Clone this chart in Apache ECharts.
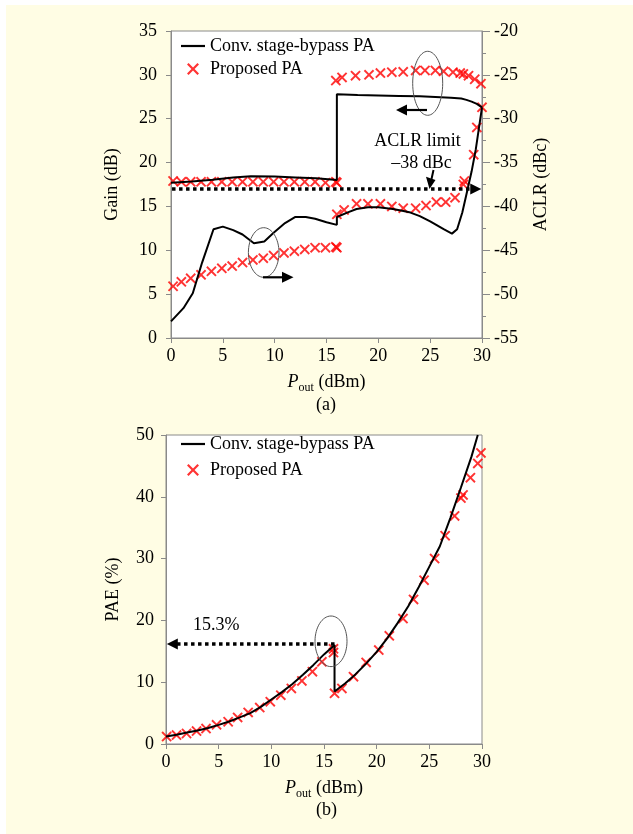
<!DOCTYPE html>
<html><head><meta charset="utf-8">
<script src="https://cdn.jsdelivr.net/npm/echarts@6/dist/echarts.min.js"></script>
<style>
html,body{margin:0;padding:0;background:#fff;}
#bg{position:absolute;left:6px;top:5px;width:627px;height:829px;background:#FFFDE4;}
#c{position:absolute;left:0;top:0;width:633px;height:834px;}
</style></head>
<body><div id="bg"></div><div id="c"></div>
<script>
// ---------- data ----------
// (a) Gain, conventional stage-bypass PA (dB, left axis)
const convGainP = [0,2,4,6,7.7,10,12,14,16,16,18,20,22,24,26,27,28,28.5,29,29.5,30];
const convGain  = [17.7,17.85,18.05,18.3,18.45,18.4,18.3,18.2,18.0,27.8,27.7,27.65,27.6,27.55,27.45,27.4,27.3,27.15,26.95,26.7,26.3];
// (a) ACLR, conventional (dBc, right axis)
const convAclrP = [0,1.2,2.1,3,4.1,5,6,6.9,8,9,9.9,11,12,13,13.9,15,16,16,17,17.9,19,20,21.4,22.3,23.1,24,25,26.3,27.1,27.6,28.1,28.6,29,29.4,30];
const convAclr  = [-53.1,-51.6,-49.9,-46.4,-42.6,-42.3,-42.7,-43.2,-44.2,-44.0,-43.0,-41.9,-41.2,-41.2,-41.4,-41.8,-42.1,-41.2,-40.7,-40.3,-40.1,-40.1,-40.3,-40.5,-40.7,-41.1,-41.7,-42.6,-43.1,-42.6,-40.7,-38.1,-36.0,-33.5,-28.7];
// (a) Proposed PA, low-power mode
const propLowP    = [0.2,1.0,1.9,2.9,3.9,4.9,5.9,6.9,7.9,8.9,9.9,10.9,11.9,12.9,13.9,14.9,15.9,16.0];
const propLowGain = [17.9,17.8,17.8,17.8,17.8,17.8,17.8,17.8,17.8,17.8,17.8,17.8,17.8,17.8,17.8,17.7,17.8,17.7];
const propLowAclr = [-49.1,-48.6,-48.2,-47.8,-47.4,-47.05,-46.8,-46.4,-46.1,-45.9,-45.6,-45.3,-45.1,-44.9,-44.7,-44.7,-44.6,-44.7];
// (a) Proposed PA, high-power mode
const propHighGainP = [15.9,16.5,17.8,19.1,20.2,21.3,22.4,23.6,24.5,25.5,26.3,27.2,27.9,28.2,28.7,29.3,29.9];
const propHighGain  = [29.35,29.7,29.9,30.0,30.2,30.3,30.35,30.5,30.5,30.5,30.4,30.3,30.2,30.1,29.9,29.5,29.0];
const propHighAclrP = [16.0,16.7,17.9,19.0,20.2,21.3,22.4,23.6,24.6,25.6,26.5,27.4,28.2,28.3,29.2,29.5,30.0];
const propHighAclr  = [-40.9,-40.4,-39.7,-39.7,-39.7,-40.0,-40.2,-40.2,-39.9,-39.5,-39.5,-39.0,-37.5,-37.1,-34.1,-31.0,-28.7];
const aclrLimit = -38;
// (b) PAE
const convPaeP = [0,1,2,3,4,5,6,7,8,9,10,11,12,13,14,15,16,16,17,18,19,20,21,22,23,24,25,26,27,28,29,29.6];
const convPae  = [1.2,1.5,1.85,2.2,2.6,3.1,3.65,4.3,5.0,6.0,7.2,8.4,9.7,11.2,12.8,14.5,16.0,8.5,9.8,11.3,13.0,14.9,17.1,19.6,22.3,25.4,28.7,32.0,36.6,41.5,46.5,50];
const propPaeP = [0.06,1.0,1.95,2.9,3.8,4.8,5.9,6.8,7.8,8.9,9.9,10.9,11.9,12.9,13.9,14.8,15.9,15.9,16.0,16.7,17.8,19.0,20.2,21.2,22.5,23.5,24.5,25.5,26.5,27.4,28.0,28.2,28.9,29.6,29.9];
const propPae  = [1.2,1.45,1.7,2.1,2.5,3.1,3.6,4.3,5.1,5.9,6.85,7.9,9.0,10.2,11.7,13.3,14.8,15.4,8.2,9.0,10.9,13.2,15.2,17.5,20.3,23.4,26.5,30.0,33.7,36.9,39.8,40.3,43.1,45.4,47.1];
const paeMark = 16.2;
const names = ['Conv. stage-bypass PA','Proposed PA'];

// ---------- chart ----------
const F = 'Liberation Serif';
const zip = (a,b) => a.map((v,i)=>[v,b[i]]);
const XPATH = 'path://M0,1.3L1.3,0L5,3.7L8.7,0L10,1.3L6.3,5L10,8.7L8.7,10L5,6.3L1.3,10L0,8.7L3.7,5Z';
const LPATH = 'path://M0,0H24V2.2H0Z';
const RED = '#FF0000';
const AX = '#8a8a8a';
const chart = echarts.init(document.getElementById('c'), null, {renderer:'canvas'});

function xAxisCfg(gi){
  return {type:'value', gridIndex:gi, min:0, max:30, interval:5,
    name:'{i|P}{s|out}{n| (dBm)}', nameLocation:'middle', nameGap:32,
    nameTextStyle:{color:'#000', fontFamily:F, fontSize:18, rich:{
      i:{fontStyle:'italic', fontFamily:F, fontSize:18, lineHeight:24, color:'#000'},
      s:{fontFamily:F, fontSize:12, lineHeight:12, verticalAlign:'bottom', color:'#000'},
      n:{fontFamily:F, fontSize:18, lineHeight:24, color:'#000'}}},
    axisLine:{show:true, lineStyle:{color:AX, width:1}},
    axisTick:{show:true, inside:false, length:5, lineStyle:{color:AX}},
    axisLabel:{color:'#000', fontFamily:F, fontSize:18, margin:9},
    splitLine:{show:false}};
}
const lblY = {color:'#000', fontFamily:F, fontSize:18};
const scat = (name, xi, yi, d) => ({type:'scatter', name, xAxisIndex:xi, yAxisIndex:yi, data:d,
  symbol:XPATH, symbolSize:10.5, itemStyle:{color:RED}, z:3});
const line = (name, xi, yi, d, extra) => Object.assign({type:'line', name, xAxisIndex:xi, yAxisIndex:yi, data:d,
  symbol:'none', smooth:false, lineStyle:{color:'#000', width:2}, itemStyle:{color:'#000'}, z:4}, extra||{});
const dotted = {color:'#000', width:3.5, type:[3.5,3.5], cap:'butt'};

const legendCfg = (left, top, gap) => ({orient:'vertical', left, top, itemWidth:24, itemHeight:12, itemGap:gap,
  selectedMode:false, textStyle:{color:'#000', fontFamily:F, fontSize:18, lineHeight:18},
  data:[{name:names[0], icon:LPATH, itemStyle:{color:'#000'}},{name:names[1], icon:XPATH, itemStyle:{color:RED}}]});

chart.setOption({
  animation:false,
  backgroundColor:'transparent',
  textStyle:{fontFamily:F},
  grid:[
    {left:171, top:31, width:311, height:307, show:true, backgroundColor:'#fff', borderColor:AX, borderWidth:1},
    {left:166, top:435, width:316, height:309, show:true, backgroundColor:'#fff', borderColor:AX, borderWidth:1}
  ],
  legend:[legendCfg(176, 32, 5), legendCfg(176, 430, 8)],
  xAxis:[xAxisCfg(0), xAxisCfg(1)],
  yAxis:[
    {type:'value', gridIndex:0, min:0, max:35, interval:5, name:'Gain (dB)', nameLocation:'middle', nameGap:50,
      nameTextStyle:{color:'#000', fontFamily:F, fontSize:18},
      axisLine:{show:true, lineStyle:{color:AX}}, axisTick:{show:true, length:5, lineStyle:{color:AX}},
      axisLabel:Object.assign({margin:14}, lblY), splitLine:{show:false}},
    {type:'value', gridIndex:0, position:'right', min:-55, max:-20, interval:5, name:'ACLR (dBc)', nameLocation:'middle', nameGap:50,
      nameTextStyle:{color:'#000', fontFamily:F, fontSize:18},
      axisLine:{show:true, lineStyle:{color:AX}}, axisTick:{show:true, length:8, lineStyle:{color:AX}},
      minorTick:{show:true, splitNumber:2, length:4, lineStyle:{color:AX}},
      axisLabel:Object.assign({margin:12}, lblY), splitLine:{show:false}},
    {type:'value', gridIndex:1, min:0, max:50, interval:10, name:'PAE (%)', nameLocation:'middle', nameGap:44,
      nameTextStyle:{color:'#000', fontFamily:F, fontSize:18},
      axisLine:{show:true, lineStyle:{color:AX}}, axisTick:{show:true, length:5, lineStyle:{color:AX}},
      axisLabel:Object.assign({margin:12}, lblY), splitLine:{show:false}}
  ],
  series:[
    scat(names[1],0,0,zip(propLowP,propLowGain)),
    scat(names[1],0,0,zip(propHighGainP,propHighGain)),
    scat(names[1],0,1,zip(propLowP,propLowAclr)),
    scat(names[1],0,1,zip(propHighAclrP,propHighAclr)),
    line(names[0],0,0,zip(convGainP,convGain)),
    line(names[0],0,1,zip(convAclrP,convAclr),{
      markLine:{silent:true, symbol:['none','triangle'], symbolSize:[11,11], label:{show:false},
        lineStyle:dotted, emphasis:{disabled:true},
        data:[[{coord:[0.1,aclrLimit]},{coord:[29.4,aclrLimit]}]]}}),
    scat(names[1],1,2,zip(propPaeP,propPae)),
    line(names[0],1,2,zip(convPaeP,convPae),{
      markLine:{silent:true, symbol:['none','triangle'], symbolSize:[11,11], label:{show:false},
        lineStyle:dotted, emphasis:{disabled:true},
        data:[[{coord:[16,paeMark]},{coord:[0.6,paeMark]}]]}})
  ],
  graphic:[
    {type:'ellipse', shape:{cx:427.7, cy:83.3, rx:15, ry:32}, style:{fill:'none', stroke:'#555', lineWidth:1}, z:10},
    {type:'line', shape:{x1:427, y1:110, x2:405, y2:110}, style:{stroke:'#000', lineWidth:2.2}, z:10},
    {type:'polygon', shape:{points:[[396,110],[407,104.5],[407,115.5]]}, style:{fill:'#000'}, z:10},
    {type:'ellipse', shape:{cx:263.7, cy:252.5, rx:15.3, ry:24.8}, style:{fill:'none', stroke:'#555', lineWidth:1}, z:10},
    {type:'line', shape:{x1:263, y1:277.3, x2:284, y2:277.3}, style:{stroke:'#000', lineWidth:2.2}, z:10},
    {type:'polygon', shape:{points:[[293.5,277.3],[282,271.8],[282,282.8]]}, style:{fill:'#000'}, z:10},
    {type:'ellipse', shape:{cx:331, cy:641.3, rx:16, ry:25.3}, style:{fill:'none', stroke:'#555', lineWidth:1}, z:10},
    {type:'line', shape:{x1:433.5, y1:170, x2:431.5, y2:179}, style:{stroke:'#000', lineWidth:2}, z:10},
    {type:'polygon', shape:{points:[[426,176.7],[435.5,180],[429.5,189]]}, style:{fill:'#000'}, z:10},
    {type:'text', x:417.5, y:141.7, style:{text:'ACLR limit', font:'18px "Liberation Serif"', fill:'#000', align:'center', verticalAlign:'middle'}, z:10},
    {type:'text', x:421.5, y:163.3, style:{text:'\u201338 dBc', font:'18px "Liberation Serif"', fill:'#000', align:'center', verticalAlign:'middle'}, z:10},
    {type:'text', x:216.3, y:625, style:{text:'15.3%', font:'18px "Liberation Serif"', fill:'#000', align:'center', verticalAlign:'middle'}, z:10},
    {type:'text', x:326, y:405, style:{text:'(a)', font:'18px "Liberation Serif"', fill:'#000', align:'center', verticalAlign:'middle'}, z:10},
    {type:'text', x:326.5, y:810, style:{text:'(b)', font:'18px "Liberation Serif"', fill:'#000', align:'center', verticalAlign:'middle'}, z:10}
  ]
});
</script>
</body></html>
